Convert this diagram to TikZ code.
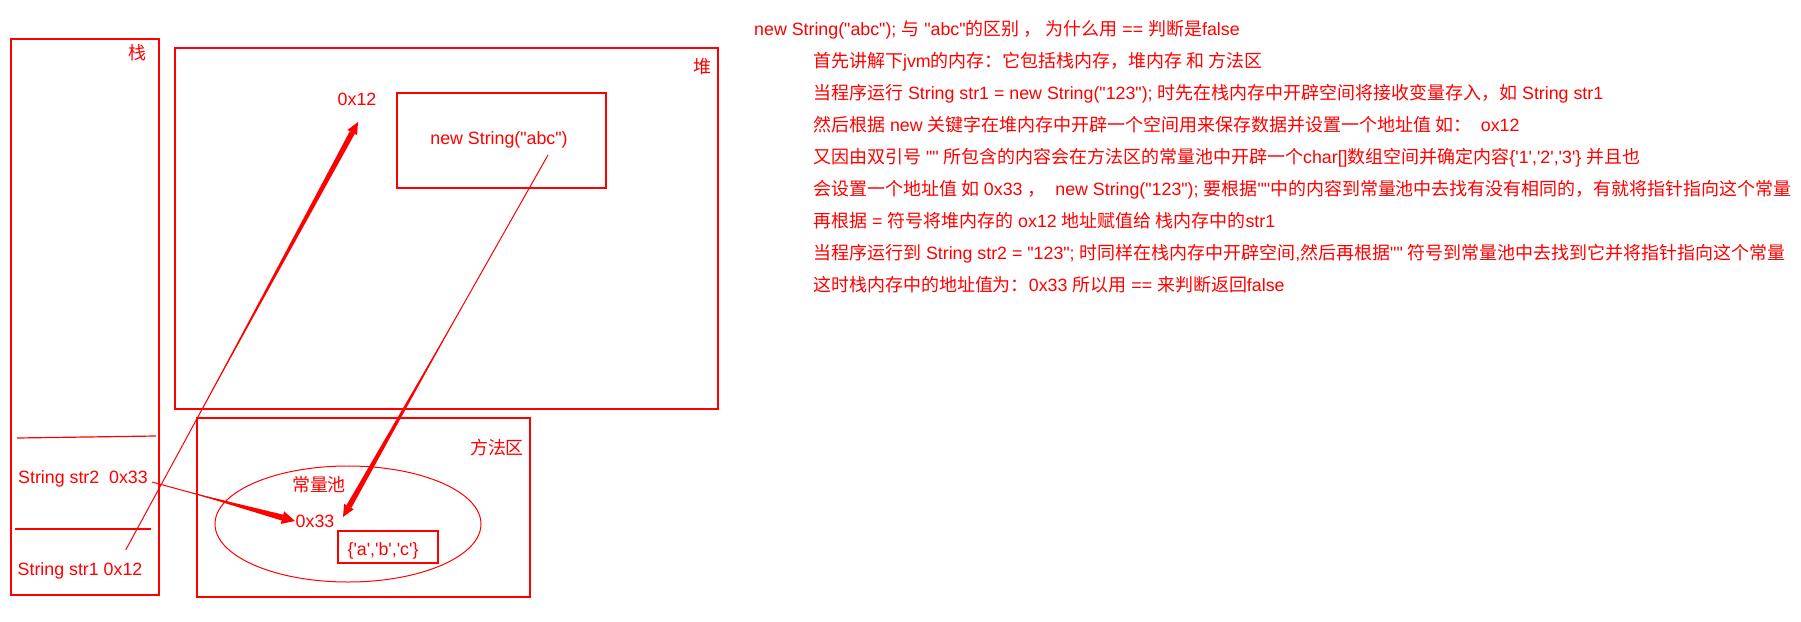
\documentclass[tikz,border=0pt]{standalone}
\usepackage{fontspec}
\newfontfamily\lat{Liberation Sans}
\newfontfamily\cjk{Noto Sans CJK SC}[Scale=1.01]
\newcommand\zh[1]{{\cjk #1}}
\usetikzlibrary{calc,shapes.geometric}
\definecolor{rd}{RGB}{255,0,0}
% tapered arrow: #1 start, #2 tip, #3 fraction where thickening starts,
% #4 head length, #5 head half width, #6 body half width
\newcommand\taperarrow[6]{%
  \coordinate (tpb) at ($(#2)!#4!(#1)$);
  \coordinate (tpm) at ($(#1)!#3!(#2)$);
  \draw[rd, line width=1pt] (#1) -- (tpb);
  \fill[rd] (tpm) -- ($(tpb)!#6!90:(#2)$) -- ($(tpb)!#6!-90:(#2)$) -- cycle;
  \fill[rd] (#2) -- ($(tpb)!#5!90:(#2)$) -- ($(tpb)!#5!-90:(#2)$) -- cycle;
}
\begin{document}
\begin{tikzpicture}[x=1pt,y=-1pt,
  box/.style={draw=rd,line width=2pt,inner sep=0pt,outer sep=0pt,anchor=north west},
  txt/.style={text=rd,inner sep=0pt,font=\lat\fontsize{17.8}{20}\selectfont},
  lab/.style={txt,anchor=base},
  row/.style={txt,anchor=base west},
  sep/.style={draw=rd,line width=1.2pt}]
\path[use as bounding box] (0,0) rectangle (1801,621);

% containers
\node[box,minimum width=148,minimum height=556] (stack) at (11,39) {};
\node[box,minimum width=543,minimum height=361] (heap) at (175,48) {};
\node[box,minimum width=209,minimum height=95] (obj) at (397,93) {};
\node[box,minimum width=333,minimum height=179] (method) at (197,418) {};
\node[ellipse,draw=rd,line width=1pt,minimum width=266,minimum height=116,inner sep=0pt] (pool) at (348,524) {};
\node[box,minimum width=100,minimum height=32] (arr) at (338,531) {};

% stack separators
\coordinate (s1a) at (17,438); \coordinate (s1b) at (156,436);
\coordinate (s2a) at (15,529); \coordinate (s2b) at (151,529);
\draw[sep] (s1a) -- (s1b);
\draw[sep] (s2a) -- (s2b);

% labels
\node[lab] (tz) at (137,59.5) {\zh{栈}};
\node[lab] (td) at (702,73.5) {\zh{堆}};
\node[lab] (p12) at (357,105.5) {0x12};
\node[lab] (nsa) at (499,144.5) {new String("abc")};
\node[lab] (ff) at (497,454.5) {\zh{方法区}};
\node[lab] (clc) at (319,491.5) {\zh{常量池}};
\node[lab] (p33) at (315,527.5) {0x33};
\node[lab] (abc) at (383,555.5) {\{'a','b','c'\}};
\node[row] (str2) at (18,483.5) {String str2\ \ 0x33};
\node[row] (str1) at (17.5,575.5) {String str1 0x12};

% arrows
\coordinate (a1s) at (125.7,550); \coordinate (a1t) at (358,122);
\coordinate (a2s) at (548,155);   \coordinate (a2t) at (343,517);
\coordinate (a3s) at (152,482);   \coordinate (a3t) at (295,521);
\taperarrow{a1s}{a1t}{0.3}{12pt}{5.5pt}{2.8pt}
\taperarrow{a2s}{a2t}{0.42}{12pt}{5.5pt}{2.8pt}
\taperarrow{a3s}{a3t}{0.25}{13pt}{6.5pt}{3pt}

% explanation text
\node[row] (l1) at (754,35.5) {new String("abc"); \zh{与} "abc"\zh{的区别 ， 为什么用} == \zh{判断是}false};
\node[row] (l2) at (813,67.5) {\zh{首先讲解下}jvm\zh{的内存：它包括栈内存，堆内存 和 方法区}};
\node[row] (l3) at (813,99.5) {\zh{当程序运行} String str1 = new String("123"); \zh{时先在栈内存中开辟空间将接收变量存入，如} String str1};
\node[row] (l4) at (813,131.5) {\zh{然后根据} new \zh{关键字在堆内存中开辟一个空间用来保存数据并设置一个地址值 如：}\ \ ox12};
\node[row] (l5) at (813,163.5) {\zh{又因由双引号} "" \zh{所包含的内容会在方法区的常量池中开辟一个}char[]\zh{数组空间并确定内容}\{'1','2','3'\} \zh{并且也}};
\node[row] (l6) at (813,195.5) {\zh{会设置一个地址值 如} 0x33 \zh{，}\ \ new String("123"); \zh{要根据}""\zh{中的内容到常量池中去找有没有相同的，有就将指针指向这个常量}};
\node[row] (l7) at (813,227.5) {\zh{再根据} = \zh{符号将堆内存的} ox12 \zh{地址赋值给 栈内存中的}str1};
\node[row] (l8) at (813,259.5) {\zh{当程序运行到} String str2 = "123"; \zh{时同样在栈内存中开辟空间},\zh{然后再根据}"" \zh{符号到常量池中去找到它并将指针指向这个常量}};
\node[row] (l9) at (813,291.5) {\zh{这时栈内存中的地址值为：}0x33 \zh{所以用} == \zh{来判断返回}false};
\end{tikzpicture}
\end{document}
